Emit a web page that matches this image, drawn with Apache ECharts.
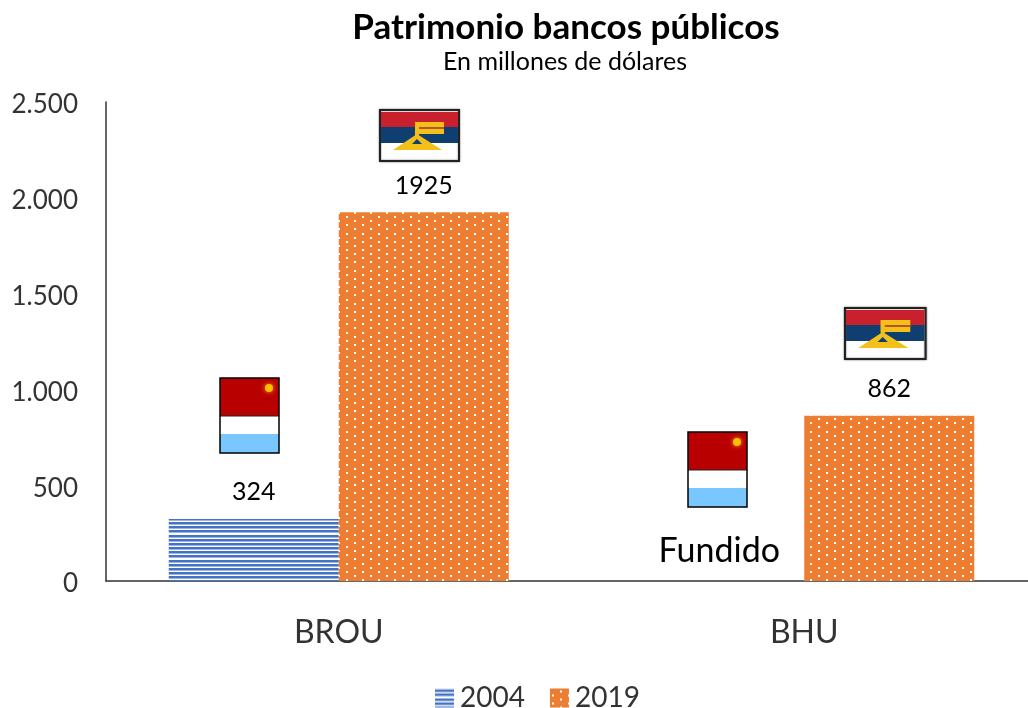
<!DOCTYPE html>
<html><head><meta charset="utf-8">
<style>html,body{margin:0;padding:0;background:#fff;width:1028px;height:708px;overflow:hidden}#c{width:1040px;height:708px}</style>
<script src="https://cdn.jsdelivr.net/npm/echarts@6/dist/echarts.min.js"></script>
</head><body><div id="c"></div>
<script>
const categories = ['BROU', 'BHU'];
const years = ['2004', '2019'];
const values2004 = [324, 0];
const values2019 = [1925, 862];
const yTicks = { min: 0, max: 2500, interval: 500 };
const FONT = 'Lato, "Open Sans", sans-serif';

function linePattern() {
  const c = document.createElement('canvas'); c.width = 4; c.height = 25;
  const g = c.getContext('2d');
  g.fillStyle = '#fff'; g.fillRect(0,0,4,25);
  for (let i = 0; i < 6; i++) {
    const y = (22 + Math.round(i * 25 / 6)) % 25;
    g.fillStyle = '#4472c4'; g.fillRect(0,y,4,2);
    g.fillStyle = '#9db4e0'; g.fillRect(0,(y+2)%25,4,1);
  }
  return { image: c, repeat: 'repeat' };
}
function dotPattern() {
  const c = document.createElement('canvas'); c.width = 16; c.height = 33;
  const g = c.getContext('2d');
  g.fillStyle = '#ed7d31'; g.fillRect(0,0,16,33);
  g.fillStyle = '#fff';
  for (let i = 0; i < 8; i++) {
    const y = (18 + Math.round(i * 33 / 8)) % 33;
    g.fillRect(i % 2 ? 2 : 10, y, 2, 2);
  }
  return { image: c, repeat: 'repeat' };
}
function oldFlag(x, y) {
  const w = 59, h = 75;
  return { type:'group', x, y, silent:true, children:[
    {type:'rect', shape:{x:0,y:0,width:w,height:38}, style:{fill:'#b80000'}},
    {type:'rect', shape:{x:0,y:38,width:w,height:18}, style:{fill:'#fff'}},
    {type:'rect', shape:{x:0,y:56,width:w,height:19}, style:{fill:'#7ac6ff'}},
    {type:'circle', shape:{cx:49,cy:10,r:4}, style:{fill:'#ffc000',shadowBlur:5,shadowColor:'#ff9000'}},
    {type:'line', shape:{x1:0,y1:38,x2:w,y2:38}, style:{stroke:'#222',lineWidth:1.2}},
    {type:'rect', shape:{x:0,y:0,width:w,height:h}, style:{fill:'none',stroke:'#000',lineWidth:1.5}}
  ]};
}
function newFlag(x, y, sx) {
  const gold = '#f2c018';
  return { type:'group', x, y, scaleX:sx, silent:true, children:[
    {type:'rect', shape:{x:0,y:0,width:79,height:51}, style:{fill:'#fff',stroke:'#222',lineWidth:2,shadowBlur:2,shadowColor:'#777'}},
    {type:'rect', shape:{x:1,y:2,width:77,height:15}, style:{fill:'#c8202c'}},
    {type:'rect', shape:{x:1,y:17,width:77,height:16}, style:{fill:'#0f3f70'}},
    {type:'polygon', shape:{points:[[13,40],[37,24],[62,40]]}, style:{fill:gold}},
    {type:'polygon', shape:{points:[[32,34],[37,29],[42,34]]}, style:{fill:'#0f3f70'}},
    {type:'rect', shape:{x:35,y:12,width:4,height:14}, style:{fill:gold}},
    {type:'rect', shape:{x:35,y:12,width:29,height:12}, style:{fill:gold}},
    {type:'rect', shape:{x:39,y:17,width:25,height:2}, style:{fill:'#b5552c'}}
  ]};
}

const chart = echarts.init(document.getElementById('c'), null, {renderer:'canvas'});
chart.setOption({
  animation:false,
  backgroundColor:'#fff',
  title:[
    {text:'Patrimonio bancos públicos', left:561, top:5, textAlign:'center',
     textStyle:{fontFamily:FONT,fontSize:35,fontWeight:'bold',color:'#000'}},
    {text:'En millones de dólares', left:560, top:44, textAlign:'center',
     textStyle:{fontFamily:FONT,fontSize:25,fontWeight:'normal',color:'#000'}}
  ],
  grid:{left:106, top:102, width:931, height:479, containLabel:false},
  legend:{
    data:years, top:679, left:430, itemWidth:19, itemHeight:19, itemGap:25,
    selectedMode:false, icon:'rect',
    textStyle:{fontFamily:FONT,fontSize:28,color:'#333',padding:[0,0,0,1]}
  },
  xAxis:{type:'category', data:categories,
    axisLine:{lineStyle:{color:'#333',width:1.5}}, axisTick:{show:false},
    axisLabel:{fontFamily:FONT,fontSize:32,color:'#333',margin:36}},
  yAxis:{type:'value', min:yTicks.min, max:yTicks.max, interval:yTicks.interval,
    axisLine:{show:true,lineStyle:{color:'#333',width:1.5}}, axisTick:{show:false},
    splitLine:{show:false},
    axisLabel:{margin:28,
      formatter:v=>'{a|'+String(v).replace(/\B(?=(\d{3})+$)/g,'.')+'}',
      rich:{a:{fontFamily:FONT,fontSize:26,color:'#333',padding:[6,0,0,0]}}}},
  series:[
    {name:years[0], type:'bar', barWidth:170, barGap:'0%',
     itemStyle:{color:linePattern()},
     data:values2004.map(v=> v===0
       ? {value:v,label:{show:true,formatter:'Fundido',fontSize:34,distance:13,color:'#000'}}
       : v),
     label:{show:true,position:'top',distance:14,fontFamily:FONT,fontSize:25,color:'#000'}},
    {name:years[1], type:'bar', barWidth:170,
     itemStyle:{color:dotPattern()},
     data:values2019,
     label:{show:true,position:'top',distance:14,fontFamily:FONT,fontSize:25,color:'#000'}}
  ],
  graphic:[ oldFlag(220,378), oldFlag(688,432), newFlag(380,110,1), newFlag(845,308,1.02) ]
});
</script></body></html>
